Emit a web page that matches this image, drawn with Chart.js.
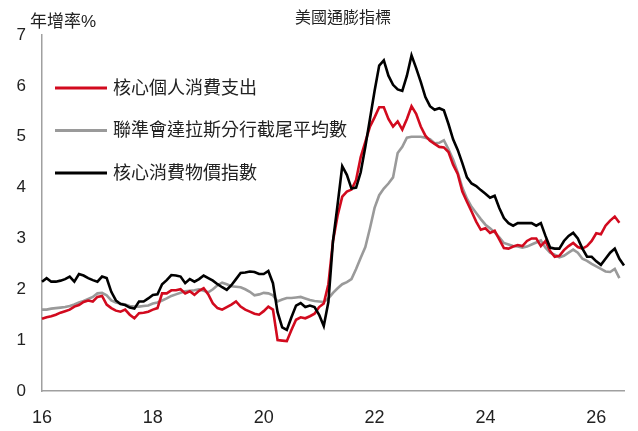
<!DOCTYPE html>
<html>
<head>
<meta charset="utf-8">
<script src="https://cdn.jsdelivr.net/npm/chart.js@4"></script>
<style>
  body { margin: 0; background: #fff; }
  #wrap { width: 638px; height: 431px; }
</style>
</head>
<body>
<div id="wrap"><canvas id="infl"></canvas></div>
<script>
// monthly, Jan 2016 onward (年增率 %)
const corePCE = [
  1.42, 1.45, 1.47, 1.50, 1.54, 1.57, 1.60, 1.66, 1.69, 1.75, 1.78, 1.76,
  1.85, 1.87, 1.70, 1.63, 1.58, 1.56, 1.60, 1.50, 1.43, 1.53, 1.54, 1.56,
  1.60, 1.63, 1.92, 1.92, 1.98, 1.98, 2.00, 1.92, 1.96, 1.89, 1.97, 2.02,
  1.90, 1.72, 1.63, 1.60, 1.65, 1.70, 1.76, 1.66, 1.60, 1.56, 1.52, 1.50,
  1.57, 1.66, 1.60, 1.00, 0.99, 0.98, 1.20, 1.40, 1.45, 1.43, 1.47, 1.52,
  1.65, 1.72, 2.10, 2.95, 3.45, 3.82, 3.92, 3.96, 4.15, 4.60, 4.90, 5.20,
  5.38, 5.58, 5.58, 5.35, 5.20, 5.30, 5.14, 5.35, 5.60, 5.45, 5.20, 5.02,
  4.92, 4.86, 4.80, 4.79, 4.70, 4.45, 4.27, 3.92, 3.72, 3.53, 3.33, 3.17,
  3.20, 3.11, 3.15, 2.98, 2.81, 2.80, 2.84, 2.87, 2.85, 2.95, 3.00, 3.00,
  2.85, 2.95, 2.75, 2.64, 2.66, 2.77, 2.85, 2.91, 2.83, 2.80, 2.85, 2.95,
  3.10, 3.08, 3.25, 3.35, 3.43, 3.31
];
const trimmedMean = [
  1.60, 1.60, 1.62, 1.63, 1.64, 1.65, 1.67, 1.70, 1.74, 1.77, 1.81, 1.85,
  1.92, 1.93, 1.88, 1.78, 1.74, 1.72, 1.70, 1.67, 1.66, 1.66, 1.67, 1.68,
  1.72, 1.74, 1.78, 1.82, 1.87, 1.90, 1.93, 1.96, 1.97, 1.98, 2.00, 1.97,
  1.94, 2.00, 2.08, 2.13, 2.10, 2.06, 2.05, 2.04, 2.00, 1.95, 1.88, 1.90,
  1.93, 1.92, 1.88, 1.76, 1.80, 1.83, 1.83, 1.84, 1.85, 1.82, 1.79, 1.77,
  1.76, 1.75, 1.82, 1.93, 2.02, 2.10, 2.14, 2.20, 2.40, 2.62, 2.83, 3.20,
  3.60, 3.85, 3.98, 4.08, 4.20, 4.68, 4.80, 4.98, 5.00, 5.00, 5.00, 4.98,
  4.95, 4.87, 4.88, 4.93, 4.75, 4.55, 4.30, 4.00, 3.78, 3.62, 3.50, 3.38,
  3.27, 3.20, 3.12, 3.02, 2.91, 2.88, 2.85, 2.84, 2.82, 2.84, 2.88, 2.92,
  2.96, 2.82, 2.72, 2.68, 2.63, 2.66, 2.72, 2.78, 2.72, 2.60, 2.56, 2.50,
  2.45, 2.40, 2.35, 2.34, 2.40, 2.22
];
const coreCPI = [
  2.15, 2.22, 2.15, 2.15, 2.17, 2.20, 2.25, 2.15, 2.30, 2.27, 2.22, 2.18,
  2.15, 2.25, 2.22, 1.95, 1.78, 1.71, 1.69, 1.64, 1.62, 1.76, 1.76, 1.82,
  1.89, 1.90, 2.10, 2.18, 2.28, 2.27, 2.25, 2.12, 2.20, 2.15, 2.20, 2.27,
  2.22, 2.17, 2.10, 2.04, 1.99, 2.08, 2.20, 2.32, 2.33, 2.35, 2.34, 2.30,
  2.30, 2.36, 2.12, 1.55, 1.25, 1.20, 1.45, 1.68, 1.73, 1.65, 1.68, 1.65,
  1.50, 1.28, 1.75, 2.95, 3.67, 4.42, 4.25, 3.98, 4.00, 4.30, 4.80, 5.35,
  5.90, 6.40, 6.50, 6.20, 6.02, 5.93, 5.90, 6.20, 6.60, 6.35, 6.08, 5.78,
  5.60, 5.53, 5.56, 5.52, 5.25, 4.95, 4.74, 4.48, 4.20, 4.08, 4.03, 3.95,
  3.88, 3.80, 3.84, 3.60, 3.40, 3.30, 3.25, 3.30, 3.30, 3.30, 3.30, 3.25,
  3.30, 3.05, 2.82, 2.80, 2.80, 2.95, 3.05, 3.11, 3.00, 2.80, 2.64, 2.64,
  2.55, 2.48, 2.60, 2.72, 2.80, 2.60, 2.47
];

const seriesNames = ["核心個人消費支出", "聯準會達拉斯分行截尾平均數", "核心消費物價指數"];
const yTicks = [0, 1, 2, 3, 4, 5, 6, 7];

// month labels "2016-01" ...
const months = [];
for (let i = 0; i < coreCPI.length; i++) {
    const y = 2016 + Math.floor(i / 12);
    const m = (i % 12) + 1;
    months.push(y + "-" + (m < 10 ? "0" + m : m));
}

const FONT = "'Liberation Sans', 'Noto Sans CJK TC', sans-serif";

const overlay = {
    id: "overlay",
    afterDraw(chart) {
        const ctx = chart.ctx;
        const area = chart.chartArea;
        ctx.save();
        ctx.fillStyle = "#222";
        ctx.textBaseline = "middle";
        ctx.font = "16px " + FONT;
        ctx.textAlign = "center";
        ctx.fillText("美國通膨指標", 343, 19);
        ctx.textAlign = "left";
        ctx.font = "17px " + FONT;
        ctx.fillText("年增率%", 30, 22);

        // legend inside the plot
        ctx.font = "18px " + FONT;
        chart.data.datasets.forEach((ds, i) => {
            const y = 88 + i * 42.5;
            ctx.strokeStyle = ds.borderColor;
            ctx.lineWidth = 3;
            ctx.beginPath();
            ctx.moveTo(area.left + 13, y);
            ctx.lineTo(area.left + 65, y);
            ctx.stroke();
            ctx.fillStyle = "#222";
            ctx.fillText(ds.label, area.left + 71, y + 1);
        });
        ctx.restore();
    }
};

new Chart(document.getElementById("infl"), {
    type: "line",
    data: {
        labels: months,
        datasets: [
            { label: seriesNames[0], data: corePCE, borderColor: "#d20a1e", order: 1 },
            { label: seriesNames[1], data: trimmedMean, borderColor: "#9a9a9a", order: 2 },
            { label: seriesNames[2], data: coreCPI, borderColor: "#000000", order: 0 }
        ]
    },
    options: {
        responsive: true,
        maintainAspectRatio: false,
        animation: false,
        layout: { padding: { top: 35, right: 14, left: 0, bottom: 0 } },
        elements: {
            point: { radius: 0 },
            line: { borderWidth: 2.6, tension: 0, fill: false }
        },
        plugins: {
            legend: { display: false },
            tooltip: { enabled: false },
            title: { display: false }
        },
        scales: {
            x: {
                type: "category",
                offset: false,
                grid: { display: false, drawTicks: false },
                border: { color: "#a0a0a0", width: 1.5 },
                afterFit: s => { s.height = 40; },
                ticks: {
                    autoSkip: false,
                    maxRotation: 0,
                    padding: 16,
                    color: "#222",
                    font: { family: FONT, size: 18 },
                    callback: function (v, i) {
                        const lab = months[i];
                        const yr = parseInt(lab.slice(0, 4));
                        if (lab.slice(5) === "01" && yr % 2 === 0) return String(yr).slice(2);
                        return null;
                    }
                }
            },
            y: {
                min: 0,
                max: 7,
                grid: { display: false, drawTicks: false },
                border: { color: "#a0a0a0", width: 1.5 },
                afterFit: s => { s.width = 42; },
                afterBuildTicks: s => { s.ticks = yTicks.map(v => ({ value: v })); },
                ticks: {
                    padding: 16,
                    color: "#222",
                    font: { family: FONT, size: 17 }
                }
            }
        }
    },
    plugins: [overlay]
});
</script>
</body>
</html>
